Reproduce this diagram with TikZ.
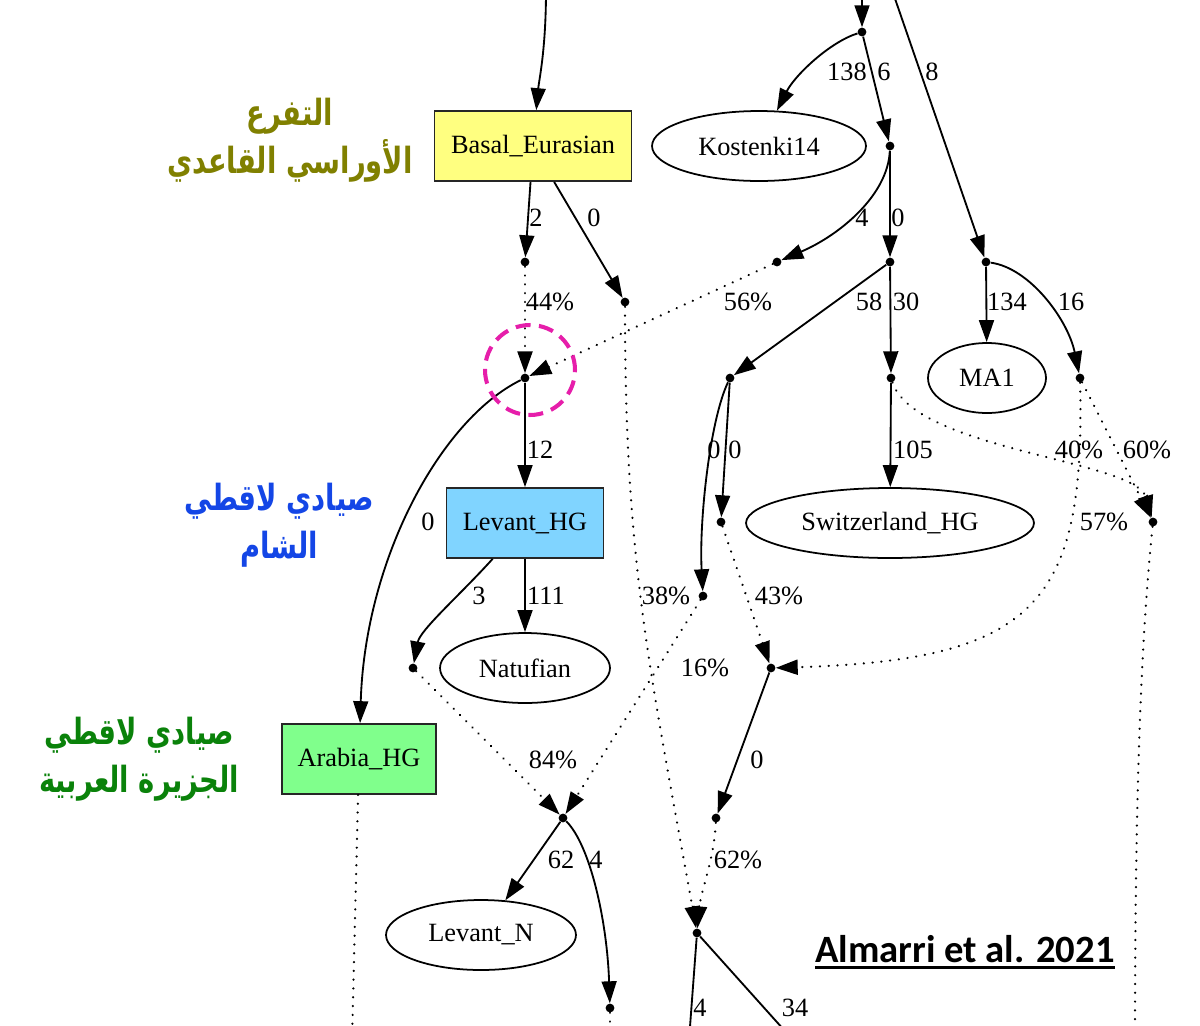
\documentclass[tikz,border=0pt]{standalone}
\usepackage{fontspec}
\setmainfont{Liberation Serif}
\newfontfamily\arabicfont[Script=Arabic,FakeStretch=0.76]{DejaVu Sans}
\newfontfamily\calfont{Carlito}
\TeXXeTstate=1
\usetikzlibrary{arrows.meta,shapes.geometric}
\definecolor{beyellow}{RGB}{255,255,128}
\definecolor{lhgblue}{RGB}{128,212,255}
\definecolor{ahggreen}{RGB}{128,255,140}
\definecolor{olivetxt}{RGB}{128,128,0}
\definecolor{bluetxt}{RGB}{20,70,230}
\definecolor{greentxt}{RGB}{10,130,10}
\definecolor{magentac}{RGB}{230,30,170}
\newcommand\ulbar[1]{\setbox0\hbox{#1}\rlap{\rule[-4pt]{\wd0}{1.6pt}}\box0}
\begin{document}
\begin{tikzpicture}[x=0.02cm,y=-0.02cm,
  font=\fontsize{15}{18}\selectfont,
  dotnode/.style={circle,fill=black,inner sep=0pt,minimum size=5pt},
  boxnode/.style={draw=black!85,line width=1pt,rectangle,minimum height=1.4cm,inner sep=2pt},
  ellnode/.style={draw=black,line width=1pt,ellipse,minimum height=1.4cm,inner sep=0pt},
  arr/.style={line width=1.05pt,-{Triangle[length=12.5pt,width=8.5pt]}},
  darr/.style={arr,line width=1.4pt,line cap=round,dash pattern=on 0.01pt off 5pt},
  dline/.style={line width=1.4pt,line cap=round,dash pattern=on 0.01pt off 5pt},
  sline/.style={line width=1.05pt},
  lbl/.style={inner sep=0pt},
  artxt/.style={align=center,font=\arabicfont\bfseries\fontsize{20.5}{27}\selectfont}
]
\path[use as bounding box,fill=white] (0,0) rectangle (1200,1025);

% main nodes
\node[boxnode,fill=beyellow,minimum width=3.94cm] (be) at (533,146) {Basal\_Eurasian};
\node[ellnode,minimum width=4.28cm] (kost) at (759,146) {Kostenki14};
\node[boxnode,fill=lhgblue,minimum width=3.14cm] (lhg) at (525,523) {Levant\_HG};
\node[ellnode,minimum width=3.4cm] (nat) at (525,668) {Natufian};
\node[ellnode,minimum width=2.36cm] (ma1) at (987,378) {MA1};
\node[ellnode,minimum width=5.76cm] (swi) at (890,523) {Switzerland\_HG};
\node[boxnode,fill=ahggreen,minimum width=3.08cm] (ahg) at (359,759) {Arabia\_HG};
\node[ellnode,minimum width=3.8cm] (levn) at (481,935) {Levant\_N};

% junction dots
\node[dotnode] (p1) at (862,32) {};
\node[dotnode] (p2) at (890,146) {};
\node[dotnode] (p3) at (777,262) {};
\node[dotnode] (p4) at (890,262) {};
\node[dotnode] (pma) at (986,262) {};
\node[dotnode] (p5) at (525,262) {};
\node[dotnode] (p6) at (625,302) {};
\node[dotnode] (p7) at (525,378) {};
\node[dotnode] (p11) at (730,378) {};
\node[dotnode] (p12) at (891,378) {};
\node[dotnode] (p17) at (1080,378) {};
\node[dotnode] (p15) at (721,522) {};
\node[dotnode] (p16) at (1153,522) {};
\node[dotnode] (p8) at (413,668) {};
\node[dotnode] (p10) at (703,596) {};
\node[dotnode] (p18) at (771,668) {};
\node[dotnode] (p9) at (563,818) {};
\node[dotnode] (p19) at (716,818) {};
\node[dotnode] (p13) at (697,933) {};
\node[dotnode] (p20) at (610,1008) {};

% free ends
\coordinate (inL) at (546,-10);
\coordinate (inR1) at (862,-10);
\coordinate (inR2) at (892,-10);
\coordinate (outA) at (352,1040);
\coordinate (out20) at (610,1040);
\coordinate (out13a) at (689,1040);
\coordinate (out13b) at (793,1040);
\coordinate (out16) at (1135,1040);

% connectors
\draw[arr] (inL) .. controls (546,50) and (539,80) .. (be);
\draw[arr] (inR1) -- (p1);
\draw[arr] (inR2) -- (pma);
\draw[arr] (p1) .. controls (830,42) and (795,75) .. (kost);
\draw[arr] (p1) -- (p2);
\draw[arr] (p2) .. controls (888,195) and (840,235) .. (p3);
\draw[arr] (p2) -- (p4);
\draw[arr] (be) -- (p5);
\draw[arr] (be) -- (p6);
\draw[darr] (p5) -- (p7);
\draw[darr] (p3) -- (p7);
\draw[arr] (p7) -- (lhg);
\draw[arr] (p7) .. controls (440,420) and (365,560) .. (ahg);
\draw[arr] (lhg) -- (nat);
\draw[arr] (lhg) .. controls (460,595) and (420,630) .. (p8);
\draw[darr] (p8) -- (p9);
\draw[darr] (p10) -- (p9);
\draw[darr] (p6) .. controls (625,560) and (648,660) .. (p13);
\draw[arr] (p4) -- (p11);
\draw[arr] (p4) -- (p12);
\draw[arr] (pma) -- (ma1);
\draw[arr] (pma) .. controls (1030,268) and (1068,320) .. (p17);
\draw[arr] (p11) .. controls (710,420) and (699,520) .. (p10);
\draw[arr] (p11) -- (p15);
\draw[arr] (p12) -- (swi);
\draw[darr] (p12) .. controls (915,450) and (1135,460) .. (p16);
\draw[darr] (p17) -- (p16);
\draw[darr] (p17) .. controls (1085,600) and (1040,660) .. (p18);
\draw[darr] (p15) -- (p18);
\draw[arr] (p18) -- (p19);
\draw[darr] (p19) .. controls (714,860) and (701,890) .. (p13);
\draw[arr] (p9) -- (levn);
\draw[arr] (p9) .. controls (590,845) and (607,920) .. (p20);
\draw[dline] (ahg) -- (outA);
\draw[dline] (p20) -- (out20);
\draw[sline] (p13) -- (out13a);
\draw[sline] (p13) -- (out13b);
\draw[dline] (p16) .. controls (1143,620) and (1135,760) .. (out16);

% edge labels
\node[lbl] (e1) at (847,72) {138};
\node[lbl] (e2) at (884,72) {6};
\node[lbl] (e3) at (932,72) {8};
\node[lbl] (e4) at (536,218) {2};
\node[lbl] (e5) at (594,218) {0};
\node[lbl] (e6) at (862,218) {4};
\node[lbl] (e7) at (898,218) {0};
\node[lbl] (e8) at (550,302) {44\%};
\node[lbl] (e9) at (748,302) {56\%};
\node[lbl] (e10) at (869,302) {58};
\node[lbl] (e11) at (906,302) {30};
\node[lbl] (e12) at (1007,302) {134};
\node[lbl] (e13) at (1071,302) {16};
\node[lbl] (e14) at (540,450) {12};
\node[lbl] (e15) at (714,450) {0};
\node[lbl] (e16) at (735,450) {0};
\node[lbl] (e17) at (913,450) {105};
\node[lbl] (e18) at (1079,450) {40\%};
\node[lbl] (e19) at (1147,450) {60\%};
\node[lbl] (e20) at (428,522) {0};
\node[lbl] (e21) at (1104,522) {57\%};
\node[lbl] (e22) at (479,596) {3};
\node[lbl] (e23) at (546,596) {111};
\node[lbl] (e24) at (666,596) {38\%};
\node[lbl] (e25) at (779,596) {43\%};
\node[lbl] (e26) at (705,668) {16\%};
\node[lbl] (e27) at (553,760) {84\%};
\node[lbl] (e28) at (757,760) {0};
\node[lbl] (e29) at (561,860) {62};
\node[lbl] (e30) at (596,860) {4};
\node[lbl] (e31) at (738,860) {62\%};
\node[lbl] (e32) at (700,1008) {4};
\node[lbl] (e33) at (795,1008) {34};

% highlight circle
\node[circle,draw=magentac,line width=2.3pt,dash pattern=on 8.5pt off 4.8pt,minimum size=1.8cm,inner sep=0pt] (hl) at (530,370) {};

% Arabic annotations
\node[artxt,text=olivetxt] (t1) at (290,140) {\beginR التفرع\endR\\\beginR الأوراسي القاعدي\endR};
\node[artxt,text=bluetxt] (t2) at (279,525) {\beginR صيادي لاقطي\endR\\\beginR الشام\endR};
\node[artxt,text=greentxt] (t3) at (139,759) {\beginR صيادي لاقطي\endR\\\beginR الجزيرة العربية\endR};

% citation
\node[font=\calfont\bfseries\fontsize{22}{26}\selectfont,anchor=base,inner sep=0pt] (cite) at (965,962) {\ulbar{Almarri et al. 2021}};
\end{tikzpicture}
\end{document}
